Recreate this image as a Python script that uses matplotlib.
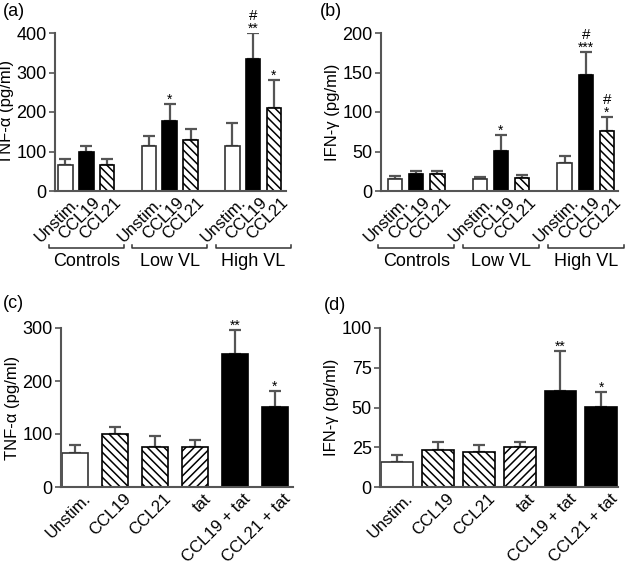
import matplotlib
matplotlib.use("Agg")
import matplotlib.pyplot as plt
import matplotlib.transforms as mtransforms
import numpy as np

plt.rcParams["font.family"] = ["Liberation Sans", "DejaVu Sans"]
plt.rcParams["hatch.linewidth"] = 1.1

# ---- data ----
groups = ["Controls", "Low VL", "High VL"]
stims_ab = ["Unstim.", "CCL19", "CCL21"]

tnf_groups = [67, 99, 66, 115, 177, 128, 115, 335, 210]
tnf_groups_err = [13, 15, 14, 25, 42, 29, 58, 65, 72]
tnf_groups_marks = ["", "", "", "", "*", "", "", "**", "*"]
tnf_groups_hash = ["", "", "", "", "", "", "", "#", ""]

ifn_groups = [15.6, 22, 21.5, 14.7, 51, 17, 36, 146.5, 76]
ifn_groups_err = [3.4, 3, 3.5, 3, 20, 3.6, 8, 29.5, 18]
ifn_groups_marks = ["", "", "", "", "*", "", "", "***", "*"]
ifn_groups_hash = ["", "", "", "", "", "", "", "#", "#"]

stims_cd = ["Unstim.", "CCL19", "CCL21", "tat", "CCL19 + tat", "CCL21 + tat"]
tnf_tat = [64, 100, 75, 75, 251, 151]
tnf_tat_err = [16, 14, 21, 13, 45, 30]
ifn_tat = [15.8, 23, 22, 25, 60.6, 50.5]
ifn_tat_err = [4.2, 5.4, 4.3, 3.4, 24.7, 9.5]
tat_marks = ["", "", "", "", "**", "*"]

W, H = 627, 566
fig = plt.figure(figsize=(W / 100, H / 100), dpi=100)

AXC = "#555555"


def px_axes(l, r, top, bot):
    return fig.add_axes([l / W, 1 - bot / H, (r - l) / W, (bot - top) / H])


def style(kind):
    if kind == "open":
        return dict(color="white", edgecolor="#333333", hatch=None)
    if kind == "solid":
        return dict(color="black", edgecolor="black", hatch=None)
    if kind == "back":
        return dict(color="white", edgecolor="black", hatch="\\\\\\\\")
    return dict(color="white", edgecolor="black", hatch="////")


def draw(ax, x, vals, errs, kinds, width, ymax, yticks, ylabel, xlim, marks, hashes=None):
    for xi, v, k in zip(x, vals, kinds):
        ax.bar(xi, v, width=width, linewidth=1.2, **style(k), zorder=2)
    ax.errorbar(x, vals, yerr=[np.zeros(len(vals)), errs], fmt="none",
                ecolor="#555555", elinewidth=1.6, capsize=4, capthick=1.6, zorder=1)
    ax.set_ylim(0, ymax)
    ax.set_xlim(*xlim)
    ax.set_yticks(yticks)
    ax.set_ylabel(ylabel, fontsize=12, labelpad=2)
    for s in ["top", "right"]:
        ax.spines[s].set_visible(False)
    for s in ["left", "bottom"]:
        ax.spines[s].set_color(AXC)
        ax.spines[s].set_linewidth(1.5)
    ax.tick_params(axis="y", length=4, width=1.2, color=AXC, labelsize=13, pad=2)
    ax.tick_params(axis="x", length=0, labelsize=12, pad=3)
    for xi, v, e, m in zip(x, vals, errs, marks):
        if m:
            ax.annotate(m, (xi, v + e), xytext=(0, -2), textcoords="offset points",
                        ha="center", va="bottom", fontsize=10, annotation_clip=False)
    if hashes:
        for xi, v, e, h in zip(x, vals, errs, hashes):
            if h:
                ax.annotate(h, (xi, v + e), xytext=(0, 7), textcoords="offset points",
                            ha="center", va="bottom", fontsize=11, annotation_clip=False)


def set_labels(ax, x, labels, rot=45):
    ax.set_xticks(x)
    ax.set_xticklabels(labels, rotation=rot, ha="right", rotation_mode="anchor")


def brackets(ax, centers):
    tr = mtransforms.blended_transform_factory(ax.transData, ax.transAxes)
    yb = -0.36
    for c, name in zip(centers, groups):
        ax.plot([c - 1.8, c - 1.8, c + 1.8, c + 1.8], [yb + 0.02, yb, yb, yb + 0.02],
                color="#333333", lw=1.1, transform=tr, clip_on=False)
        ax.text(c, yb - 0.03, name, transform=tr, ha="center", va="top", fontsize=13)


kinds_ab = ["open", "solid", "back"] * 3
x_ab = np.array([0, 1, 2, 4, 5, 6, 8, 9, 10])

ax_a = px_axes(55, 286, 33, 191)
draw(ax_a, x_ab, tnf_groups, tnf_groups_err, kinds_ab, 0.7, 400, [0, 100, 200, 300, 400],
     "TNF-\u03b1 (pg/ml)", (-0.5, 10.58), tnf_groups_marks, tnf_groups_hash)
set_labels(ax_a, x_ab + 0.3, stims_ab * 3)
brackets(ax_a, [1, 5, 9])

ax_b = px_axes(381, 618, 33, 191)
draw(ax_b, x_ab, ifn_groups, ifn_groups_err, kinds_ab, 0.68, 200, [0, 50, 100, 150, 200],
     "IFN-\u03b3 (pg/ml)", (-0.66, 10.52), ifn_groups_marks, ifn_groups_hash)
set_labels(ax_b, x_ab + 0.3, stims_ab * 3)
brackets(ax_b, [1, 5, 9])

kinds_cd = ["open", "back", "back", "fwd", "solid", "solid"]
x_cd = np.arange(6)

ax_c = px_axes(61, 293, 328, 487)
draw(ax_c, x_cd, tnf_tat, tnf_tat_err, kinds_cd, 0.67, 300, [0, 100, 200, 300],
     "TNF-\u03b1 (pg/ml)", (-0.35, 5.45), tat_marks)
set_labels(ax_c, x_cd + 0.2, stims_cd)

ax_d = px_axes(380, 618, 328, 487)
draw(ax_d, x_cd, ifn_tat, ifn_tat_err, kinds_cd, 0.78, 100, [0, 25, 50, 75, 100],
     "IFN-\u03b3 (pg/ml)", (-0.42, 5.41), tat_marks)
set_labels(ax_d, x_cd + 0.2, stims_cd)

for lab, xp, yp in [("(a)", 3, 3), ("(b)", 320, 3), ("(c)", 3, 295), ("(d)", 324, 297)]:
    fig.text(xp / W, 1 - yp / H, lab, ha="left", va="top", fontsize=13)

fig.savefig("out.png", dpi=100)
